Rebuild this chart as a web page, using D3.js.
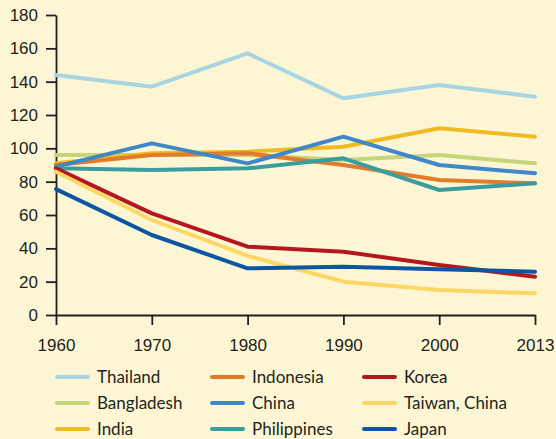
<!DOCTYPE html>
<html>
<head>
<meta charset="utf-8">
<script src="https://cdn.jsdelivr.net/npm/d3@7"></script>
<style>
  body { margin: 0; background: #fdf6d5; }
  svg { display: block; font-family: Lato, "Open Sans", sans-serif; }
  .axis text { font-size: 17px; fill: #231f20; }
  .axis path, .axis line { stroke: #231f20; stroke-width: 1.8; }
  .legend text { font-size: 17px; fill: #231f20; }
</style>
</head>
<body>
<script>
// years on the x axis (equally spaced)
var years = ['1960', '1970', '1980', '1990', '2000', '2013'];
var yTicks = [0, 20, 40, 60, 80, 100, 120, 140, 160, 180];

var thailand   = [144, 137, 157, 130, 138, 131];
var bangladesh = [96, 96, 96, 93, 96, 91];
var india      = [91, 97, 98, 101, 112, 107];
var indonesia  = [90, 96, 97, 90, 81, 79];
var china      = [89, 103, 91, 107, 90, 85];
var philippines= [88, 87, 88, 94, 75, 79];
var korea      = [88, 61, 41, 38, 30, 23];
var taiwan     = [86, 57, 35.5, 20, 15, 13];
var japan      = [75.5, 48, 28, 29, 27.5, 26];

var names  = ['Thailand', 'Bangladesh', 'India', 'Indonesia', 'China', 'Philippines', 'Korea', 'Taiwan, China', 'Japan'];
var colors = ['#a9d5e2', '#c6d57a', '#f0bb22', '#e27b2b', '#3f87c8', '#3b9ca0', '#b5171f', '#fed663', '#0a56a2'];
var series = [thailand, bangladesh, india, indonesia, china, philippines, korea, taiwan, japan];

var W = 556, H = 439;
var svg = d3.select('body').append('svg').attr('width', W).attr('height', H);

var x = d3.scalePoint().domain(years).range([56, 535]);
var y = d3.scaleLinear().domain([0, 180]).range([315, 15]);

// axes
svg.append('g').attr('class', 'axis')
  .attr('transform', 'translate(56,0)')
  .call(d3.axisLeft(y).tickValues(yTicks).tickSize(10).tickPadding(8).tickSizeOuter(0));

svg.append('g').attr('class', 'axis')
  .attr('transform', 'translate(0,315)')
  .call(d3.axisBottom(x).tickSize(10).tickPadding(14).tickSizeOuter(0));

// lines
var line = d3.line()
  .x(function (d, i) { return x(years[i]); })
  .y(function (d) { return y(d); });

svg.selectAll('.series')
  .data(series)
  .enter()
  .append('path')
  .attr('class', 'series')
  .attr('d', line)
  .attr('fill', 'none')
  .attr('stroke', function (d, i) { return colors[i]; })
  .attr('stroke-width', 4)
  .attr('stroke-linecap', 'round')
  .attr('stroke-linejoin', 'round');

// legend: 3 columns x 3 rows
var colX = [57, 212, 364];
var rowY = [377, 403, 429];
var lg = svg.selectAll('.legend')
  .data(names)
  .enter()
  .append('g')
  .attr('class', 'legend')
  .attr('transform', function (d, i) {
    return 'translate(' + colX[Math.floor(i / 3)] + ',' + rowY[i % 3] + ')';
  });

lg.append('line')
  .attr('x1', 0).attr('x2', 31)
  .attr('stroke', function (d, i) { return colors[i]; })
  .attr('stroke-width', 4)
  .attr('stroke-linecap', 'round');

lg.append('text')
  .attr('x', 40)
  .attr('dy', '0.35em')
  .text(function (d) { return d; });
</script>
</body>
</html>
